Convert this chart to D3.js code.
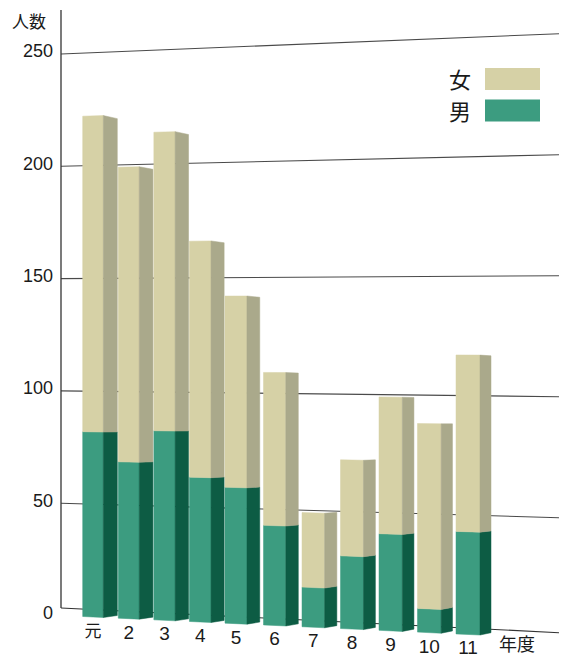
<!DOCTYPE html>
<html>
<head>
<meta charset="utf-8">
<script src="https://cdn.jsdelivr.net/npm/d3@7"></script>
<style type="text/css">
  body{
    background: white;
    margin: 0px;
    font-family: 'Liberation Sans', 'Noto Sans CJK JP', sans-serif;
  }
  .grid{
    stroke: #4a4a4a;
    stroke-width: 1.1px;
  }
  .tickText{
    font-size: 18px;
    fill: #1a1a1a;
  }
  .catText{
    font-size: 19px;
    fill: #1a1a1a;
  }
  .cjk{
    font-family: 'Noto Sans CJK JP', sans-serif;
  }
</style>
</head>
<body>
<script>

// data (persons per fiscal year, Heisei 元..11)
var years = ["元", "2", "3", "4", "5", "6", "7", "8", "9", "10", "11"];
var men   = [82, 69, 83, 63, 59, 43, 17, 31, 41, 10, 43];
var women = [140, 130, 131, 103, 83, 66, 32, 41, 58, 78, 74];
var yTicks = [0, 50, 100, 150, 200, 250];

var seriesNames = ["女", "男"];
var frontColor = {"女": "#d6d1a6", "男": "#3c9c80"};
var sideColor  = {"女": "#aaa98b", "男": "#0d5c44"};

var width = 568, height = 657;
var axisX = 61, rightX = 559;

var svg = d3.select("body").append("svg")
    .attr("width", width)
    .attr("height", height);

// the drawing is in perspective: zero line and the 250 line both tilt
var zeroY = d3.scaleLinear().domain([axisX, rightX]).range([615.5, 638.7]);
var topY  = d3.scaleLinear().domain([axisX, rightX]).range([54, 33.7]);
function proj(x, v) {
  return d3.scaleLinear().domain([0, 250]).range([zeroY(x), topY(x)])(v);
}

// bar positions widen a little to the right
var xPos  = d3.scaleLinear().domain([0, 4, 10]).range([82.7, 225, 456]);
var frontW = d3.scaleLinear().domain([0, 10]).range([20.6, 24]);
var sideW  = d3.scaleLinear().domain([0, 10]).range([14, 11]);
var vp = {x: 1500, y: 420};

function back(x, y, dw) {
  var k = dw / (vp.x - x);
  return [x + dw, y + (vp.y - y) * k];
}

// gridlines
svg.selectAll(".grid")
  .data(yTicks.filter(function(t) { return t > 0; }))
  .enter().append("line")
    .attr("class", "grid")
    .attr("x1", axisX)
    .attr("y1", function(t) { return proj(axisX, t); })
    .attr("x2", rightX)
    .attr("y2", function(t) { return proj(rightX, t); });

// baseline (drawn slightly above the true zero in the original)
svg.append("line")
    .attr("class", "grid")
    .attr("x1", axisX)
    .attr("y1", proj(axisX, 0) - 7.5)
    .attr("x2", rightX)
    .attr("y2", proj(rightX, 0) - 6)
    .style("stroke", "#333");

// y axis
svg.append("line")
    .attr("x1", axisX).attr("x2", axisX)
    .attr("y1", 10).attr("y2", proj(axisX, 0) - 7.5)
    .style("stroke", "#333")
    .style("stroke-width", "1.3px");

svg.selectAll(".tickText")
  .data(yTicks)
  .enter().append("text")
    .attr("class", "tickText")
    .attr("x", 53)
    .attr("y", function(t) { return proj(axisX, t) - 3; })
    .attr("dy", "0.35em")
    .attr("text-anchor", "end")
    .text(function(t) { return t; });

svg.append("text")
    .attr("class", "catText cjk")
    .attr("x", 12)
    .attr("y", 28)
    .style("font-size", "17px")
    .text("人数");

// stacked bars
var stackData = years.map(function(y, i) { return {year: y, i: i, "男": men[i], "女": women[i]}; });
var stack = d3.stack().keys(["男", "女"]);
var layers = stack(stackData);

layers.forEach(function(layer) {
  var key = layer.key;
  var g = svg.append("g").attr("class", "layer");
  layer.forEach(function(d) {
    var i = d.data.i;
    var xl = xPos(i), xr = xl + frontW(i), sw = sideW(i);
    var y0l = proj(xl, d[0]), y1l = proj(xl, d[1]);
    var y0r = proj(xr, d[0]), y1r = proj(xr, d[1]);
    var b1 = back(xr, y1r, sw), b0 = back(xr, y0r, sw);
    g.append("path")
      .attr("d", d3.line()([[xl, y1l], [xr, y1r], [xr, y0r], [xl, y0l]]) + "Z")
      .attr("fill", frontColor[key])
      .attr("stroke", frontColor[key])
      .attr("stroke-width", 0.5);
    g.append("path")
      .attr("d", d3.line()([[xr, y1r], b1, b0, [xr, y0r]]) + "Z")
      .attr("fill", sideColor[key])
      .attr("stroke", sideColor[key])
      .attr("stroke-width", 0.5);
  });
});

// category labels
svg.selectAll(".cat")
  .data(years)
  .enter().append("text")
    .attr("class", function(d) { return d == "元" ? "catText cjk" : "catText"; })
    .attr("x", function(d, i) { return xPos(i) + frontW(i) / 2; })
    .attr("y", function(d, i) { var c = xPos(i) + frontW(i) / 2; return zeroY(c) + 20; })
    .attr("text-anchor", "middle")
    .style("font-size", function(d) { return d == "元" ? "17px" : null; })
    .text(function(d) { return d; });

svg.append("text")
    .attr("class", "catText cjk")
    .attr("x", 517)
    .attr("y", 651)
    .attr("text-anchor", "middle")
    .style("font-size", "18px")
    .text("年度");

// legend
var legend = svg.selectAll(".legend")
  .data(seriesNames)
  .enter().append("g")
    .attr("transform", function(d, i) { return "translate(0," + (i * 31.5) + ")"; });

legend.append("rect")
    .attr("x", 485)
    .attr("y", 68)
    .attr("width", 55)
    .attr("height", 22)
    .attr("fill", function(d) { return frontColor[d]; });

legend.append("text")
    .attr("class", "cjk")
    .attr("x", 460)
    .attr("y", 88)
    .attr("text-anchor", "middle")
    .style("font-size", "22px")
    .style("fill", "#1a1a1a")
    .text(function(d) { return d; });

</script>
</body>
</html>
